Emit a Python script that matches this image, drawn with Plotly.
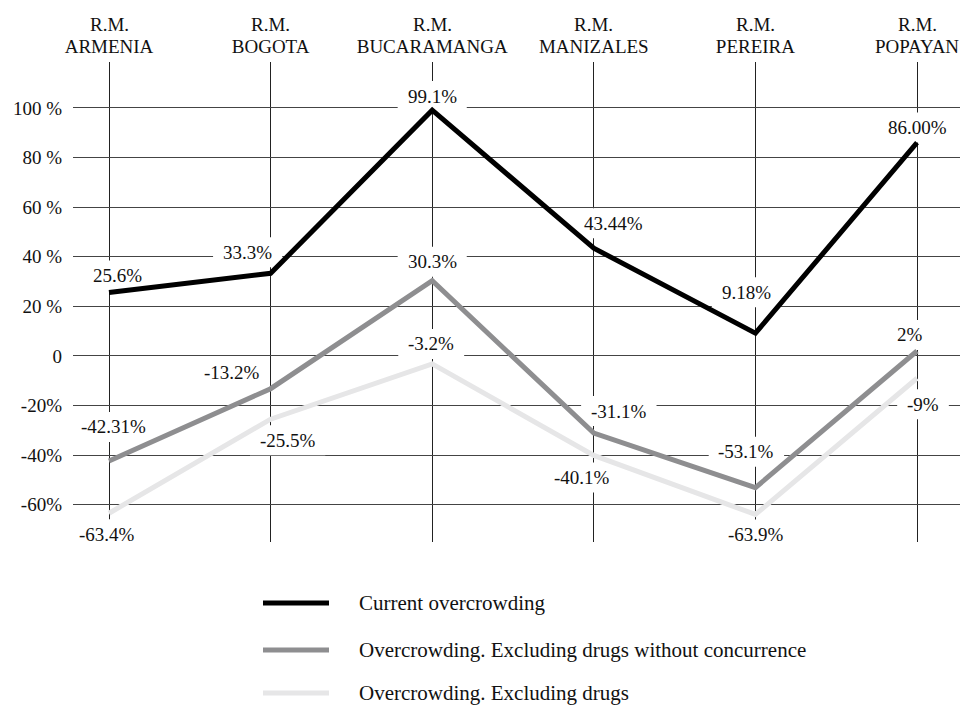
import plotly.graph_objects as go

# Metropolitan regions (columns) and overcrowding series, in percent
region_prefix = ["R.M."] * 6
regions = ["ARMENIA", "BOGOTA", "BUCARAMANGA", "MANIZALES", "PEREIRA", "POPAYAN"]

current = [25.6, 33.3, 99.1, 43.44, 9.18, 86.00]
current_text = ["25.6%", "33.3%", "99.1%", "43.44%", "9.18%", "86.00%"]

excl_no_conc = [-42.31, -13.2, 30.3, -31.1, -53.1, 2]
excl_no_conc_text = ["-42.31%", "-13.2%", "30.3%", "-31.1%", "-53.1%", "2%"]

excl_drugs = [-63.4, -25.5, -3.2, -40.1, -63.9, -9]
excl_drugs_text = ["-63.4%", "-25.5%", "-3.2%", "-40.1%", "-63.9%", "-9%"]

series_names = ["Current overcrowding",
                "Overcrowding. Excluding drugs without concurrence",
                "Overcrowding. Excluding drugs"]

y_tickvals = [100, 80, 60, 40, 20, 0, -20, -40, -60]
y_ticktext = ["100 %", "80 %", "60 %", "40 %", "20 %", "0", "-20%", "-40%", "-60%"]

# label offsets (pixels) relative to each point
current_off = [(8, 17), (-23, 21), (0, 14), (20, 25), (-9, 41), (0, 15)]
no_conc_off = [(4, 34), (-39, 16), (0, 19), (25, 22), (-9, 36), (-7, 16)]
drugs_off = [(-2, -21), (17, -21), (-1, 20), (-12, -22), (1, -20), (6, -26)]

FONT = "Liberation Serif, Times New Roman, DejaVu Serif, serif"
FS = 19
LEGEND_FS = 21
W, H = 960, 707
ML, MR, MT, MB = 73, 0, 62, 165

# approximate glyph advance widths (em) for the label boxes
ADV = {".": 0.25, "-": 0.333, "%": 0.833}


def text_width(s, size):
    return sum(ADV.get(c, 0.5) for c in s) * size


x = list(range(len(regions)))
colors = ["#000000", "#8e8e90", "#e6e6e7"]

fig = go.Figure()
for vals, col, name in [(excl_drugs, colors[2], series_names[2]),
                        (excl_no_conc, colors[1], series_names[1]),
                        (current, colors[0], series_names[0])]:
    fig.add_trace(go.Scatter(x=x, y=vals, mode="lines", name=name,
                             line=dict(color=col, width=5), showlegend=False))

annotations = []
shapes = []
for vals, texts, offs in [(current, current_text, current_off),
                          (excl_no_conc, excl_no_conc_text, no_conc_off),
                          (excl_drugs, excl_drugs_text, drugs_off)]:
    for xi, v, t, (dx, dy) in zip(x, vals, texts, offs):
        # white backing box: above the grid, beneath the lines
        hw = text_width(t, FS) / 2 + 10
        hh = 15
        shapes.append(dict(type="rect", layer="between", xref="x", yref="y",
                           xsizemode="pixel", ysizemode="pixel",
                           xanchor=xi, yanchor=v,
                           x0=dx - hw, x1=dx + hw, y0=dy - hh, y1=dy + hh,
                           fillcolor="white", line=dict(width=0)))
        annotations.append(dict(x=xi, y=v, text=t, showarrow=False,
                                xshift=dx, yshift=dy,
                                font=dict(family=FONT, size=FS, color="#111")))

# "R.M." first line of each column heading
for xi, p in zip(x, region_prefix):
    annotations.append(dict(x=xi, y=1, xref="x", yref="paper", text=p,
                            showarrow=False, yanchor="middle", yshift=38,
                            font=dict(family=FONT, size=FS, color="#111")))

# legend drawn below the plot
plot_h = H - MT - MB
plot_w = W - ML - MR
legend_y = [603, 650, 693]
for name, col, py in zip(series_names, colors, legend_y):
    yp = (H - MB - py) / plot_h
    shapes.append(dict(type="line", xref="paper", yref="paper",
                       x0=(263 - ML) / plot_w, x1=(329 - ML) / plot_w,
                       y0=yp, y1=yp, line=dict(color=col, width=5)))
    annotations.append(dict(xref="paper", yref="paper", x=(357 - ML) / plot_w,
                            y=yp, text=name, showarrow=False, xanchor="left",
                            yanchor="middle",
                            font=dict(family=FONT, size=LEGEND_FS, color="#111")))

fig.update_layout(
    width=W, height=H,
    margin=dict(l=ML, r=MR, t=MT, b=MB),
    plot_bgcolor="white", paper_bgcolor="white",
    font=dict(family=FONT, size=FS, color="#111"),
    annotations=annotations, shapes=shapes,
    xaxis=dict(side="top", tickvals=x, ticktext=regions,
               range=[-0.2228, 5.266], showgrid=True, gridcolor="#222",
               gridwidth=1, zeroline=False, showline=False,
               ticklabelstandoff=4, fixedrange=True),
    yaxis=dict(tickvals=y_tickvals, ticktext=y_ticktext, range=[-75, 118.5],
               showgrid=True, gridcolor="#444", gridwidth=1, zeroline=False,
               showline=False, ticklabelstandoff=10, fixedrange=True),
)

fig.write_html("out.html")
